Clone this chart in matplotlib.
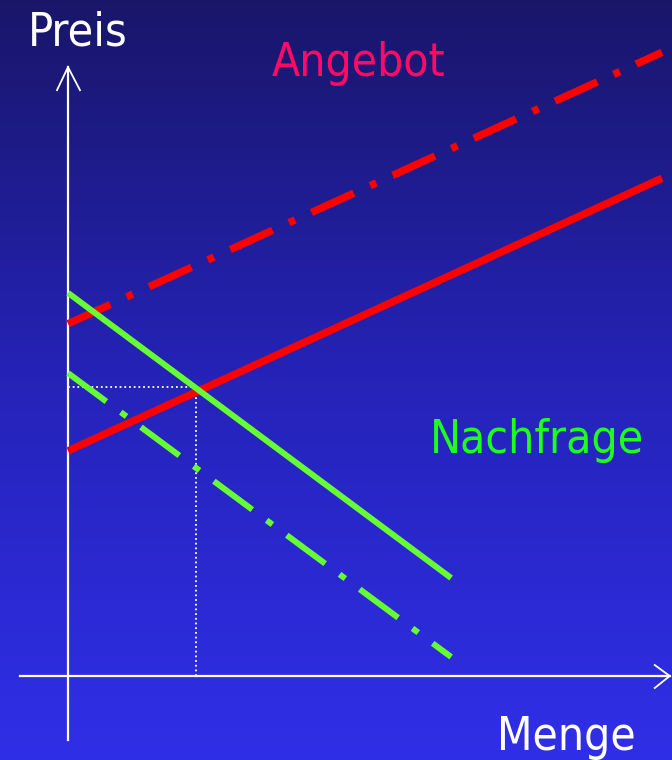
import numpy as np
import matplotlib
matplotlib.use("Agg")
import matplotlib.pyplot as plt
from matplotlib.colors import LinearSegmentedColormap

# Quantity (Menge) and price (Preis) in arbitrary units
angebot_q = [0.0, 10.0]
angebot_p = [3.79, 8.38]
angebot_neu_p = [5.93, 10.5]

nachfrage_q = [0.0, 6.45]
nachfrage_p = [6.45, 1.65]
nachfrage_neu_p = [5.10, 0.32]

gleichgewicht_q = 2.15
gleichgewicht_p = 4.87

labels = {"y": "Preis", "x": "Menge", "supply": "Angebot", "demand": "Nachfrage"}

W, H = 672, 760
fig = plt.figure(figsize=(W / 100, H / 100), dpi=100)
ax = fig.add_axes([0, 0, 1, 1])

# pixel scale: origin at (68, 676) px, 59.4 px per unit
s = 59.4
x0, y0 = 68, 676
xlim = (-x0 / s, (W - x0) / s)
ylim = (-(H - y0) / s, y0 / s)
ax.set_xlim(*xlim)
ax.set_ylim(*ylim)
ax.axis("off")

# background gradient, dark navy at top to bright blue at bottom
bg = LinearSegmentedColormap.from_list("bg", ["#302fe8", "#2523b8", "#19166a"])
grad = np.linspace(0, 1, 256).reshape(-1, 1)
ax.imshow(grad, aspect="auto", cmap=bg, origin="lower",
          extent=[xlim[0], xlim[1], ylim[0], ylim[1]], zorder=0)

# axes with open arrowheads
ax_lw = 1.6
ax.plot([0, 0], [-1.08, 10.25], color="white", lw=ax_lw, zorder=2)
ax.plot([-0.81, 10.13], [0, 0], color="white", lw=ax_lw, zorder=2)
ax.plot([-11 / s, 0, 12 / s], [10.25 - 23 / s, 10.25, 10.25 - 23 / s],
        color="white", lw=1.3, zorder=2)
ax.plot([10.13 - 15 / s, 10.13, 10.13 - 15 / s], [11 / s, 0, -12 / s],
        color="white", lw=1.3, zorder=2)

red = "#ff0000"
green = "#66ff33"

ax.plot(angebot_q, angebot_p, color=red, lw=5.4, solid_capstyle="butt", zorder=3)
ax.plot(angebot_q, angebot_neu_p, color=red, lw=5.4, dash_capstyle="butt",
        dashes=(6.2, 2.4, 0.9, 2.4), zorder=3)

ax.plot(nachfrage_q, nachfrage_p, color=green, lw=4.3, solid_capstyle="butt", zorder=4)
ax.plot(nachfrage_q, nachfrage_neu_p, color=green, lw=4.3, dash_capstyle="butt",
        dashes=(8.0, 3.0, 1.2, 3.0), zorder=4)

# equilibrium guide lines
ax.plot([0, gleichgewicht_q], [gleichgewicht_p, gleichgewicht_p], color="white",
        lw=1.3, ls=(0, (1, 1.6)), zorder=2)
ax.plot([gleichgewicht_q, gleichgewicht_q], [0, gleichgewicht_p], color="white",
        lw=1.3, ls=(0, (1, 1.6)), zorder=2)

font = dict(family="DejaVu Sans", stretch="condensed")
fig.text(28 / W, 1 - 46 / H, labels["y"], color="white", fontsize=33.5,
         ha="left", va="baseline", **font)
fig.text(497 / W, 1 - 750 / H, labels["x"], color="white", fontsize=33,
         ha="left", va="baseline", **font)
fig.text(272 / W, 1 - 76 / H, labels["supply"], color="#ff0a64", fontsize=33,
         ha="left", va="baseline", **font)
fig.text(430 / W, 1 - 453 / H, labels["demand"], color="#1eff1e", fontsize=33.2,
         ha="left", va="baseline", **font)

fig.savefig("out.png", dpi=100)
